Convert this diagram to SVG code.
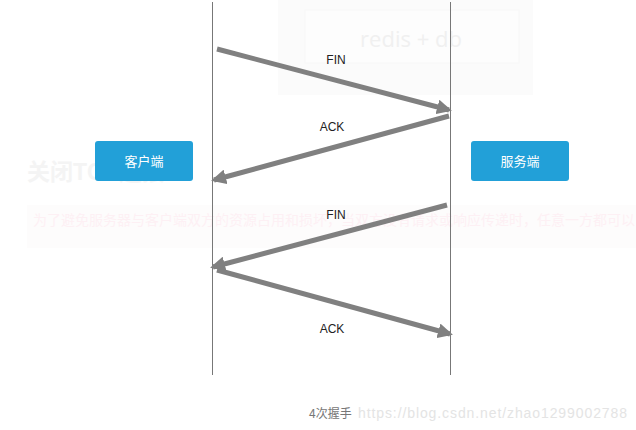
<svg xmlns="http://www.w3.org/2000/svg" width="636" height="430" viewBox="0 0 636 430">
<style>
.ghost{font-family:"Liberation Sans","Noto Sans CJK SC",sans-serif}
.life{stroke:#777;stroke-width:1;fill:none}
.msg{stroke:#808080;stroke-width:5;fill:none;marker-end:url(#ah)}
.lbl{font-family:"Liberation Sans",Arial,sans-serif;font-size:12px;fill:#222;text-anchor:middle}
.box{fill:#22a0d8}
.btxt{font-family:"Noto Sans CJK SC","Liberation Sans",sans-serif;font-size:13px;fill:#fff;text-anchor:middle}
.cap{font-family:"Noto Sans CJK SC","Liberation Sans",sans-serif;font-size:12px;fill:#777}
.wm{font-family:"Liberation Sans",Arial,sans-serif;font-size:14px;fill:#e4e4e4}
.rd{font-family:"Open Sans",sans-serif;font-size:22px;fill:#f0f0f0;text-anchor:middle}
</style>
<defs>
<marker id="ah" viewBox="0 0 10 10" refX="8" refY="5" markerWidth="3" markerHeight="3" orient="auto" markerUnits="strokeWidth">
<path d="M0,0 L10,5 L0,10 z" fill="#808080"/>
</marker>
</defs>
<rect width="636" height="430" fill="#fff"/>
<g id="background">
<rect x="278" y="0" width="255" height="95" fill="#fbfbfb"/>
<rect x="305" y="10" width="214" height="53" fill="#fdfdfd" stroke="#f7f7f7"/>
<text x="411" y="47" class="rd">redis + db</text>
<text x="27" y="180" class="ghost" font-size="23" font-weight="bold" fill="#f4f4f4">关闭TCP连接</text>
<rect x="27" y="205" width="609" height="43" fill="#fdfcfc"/>
<text x="33" y="225" class="ghost" font-size="14" fill="#fdf0f4">为了避免服务器与客户端双方的资源占用和损坏，当双方没有请求或响应传递时，任意一方都可以</text>
</g>
<g id="lifelines">
<line class="life" x1="212.5" y1="2" x2="212.5" y2="375"/>
<line class="life" x1="450.5" y1="2" x2="450.5" y2="375"/>
</g>
<g id="client">
<rect class="box" x="95" y="141" width="98" height="40" rx="3"/>
<text class="btxt" x="144" y="166">客户端</text>
</g>
<g id="server">
<rect class="box" x="471" y="141" width="98" height="40" rx="3"/>
<text class="btxt" x="520" y="166">服务端</text>
</g>
<g id="connectors">
<line class="msg" x1="217" y1="49" x2="449" y2="110"/>
<line class="msg" x1="449" y1="116" x2="214" y2="180"/>
<line class="msg" x1="447" y1="205" x2="213" y2="267"/>
<line class="msg" x1="217" y1="270" x2="450" y2="334"/>
<text class="lbl" x="336" y="64">FIN</text>
<text class="lbl" x="332" y="131">ACK</text>
<text class="lbl" x="336" y="219">FIN</text>
<text class="lbl" x="332" y="333">ACK</text>
</g>
<g id="caption">
<text x="309" y="418" class="cap">4次握手</text>
<text x="358" y="418" class="wm" textLength="269">https://blog.csdn.net/zhao1299002788</text>
</g>
</svg>
